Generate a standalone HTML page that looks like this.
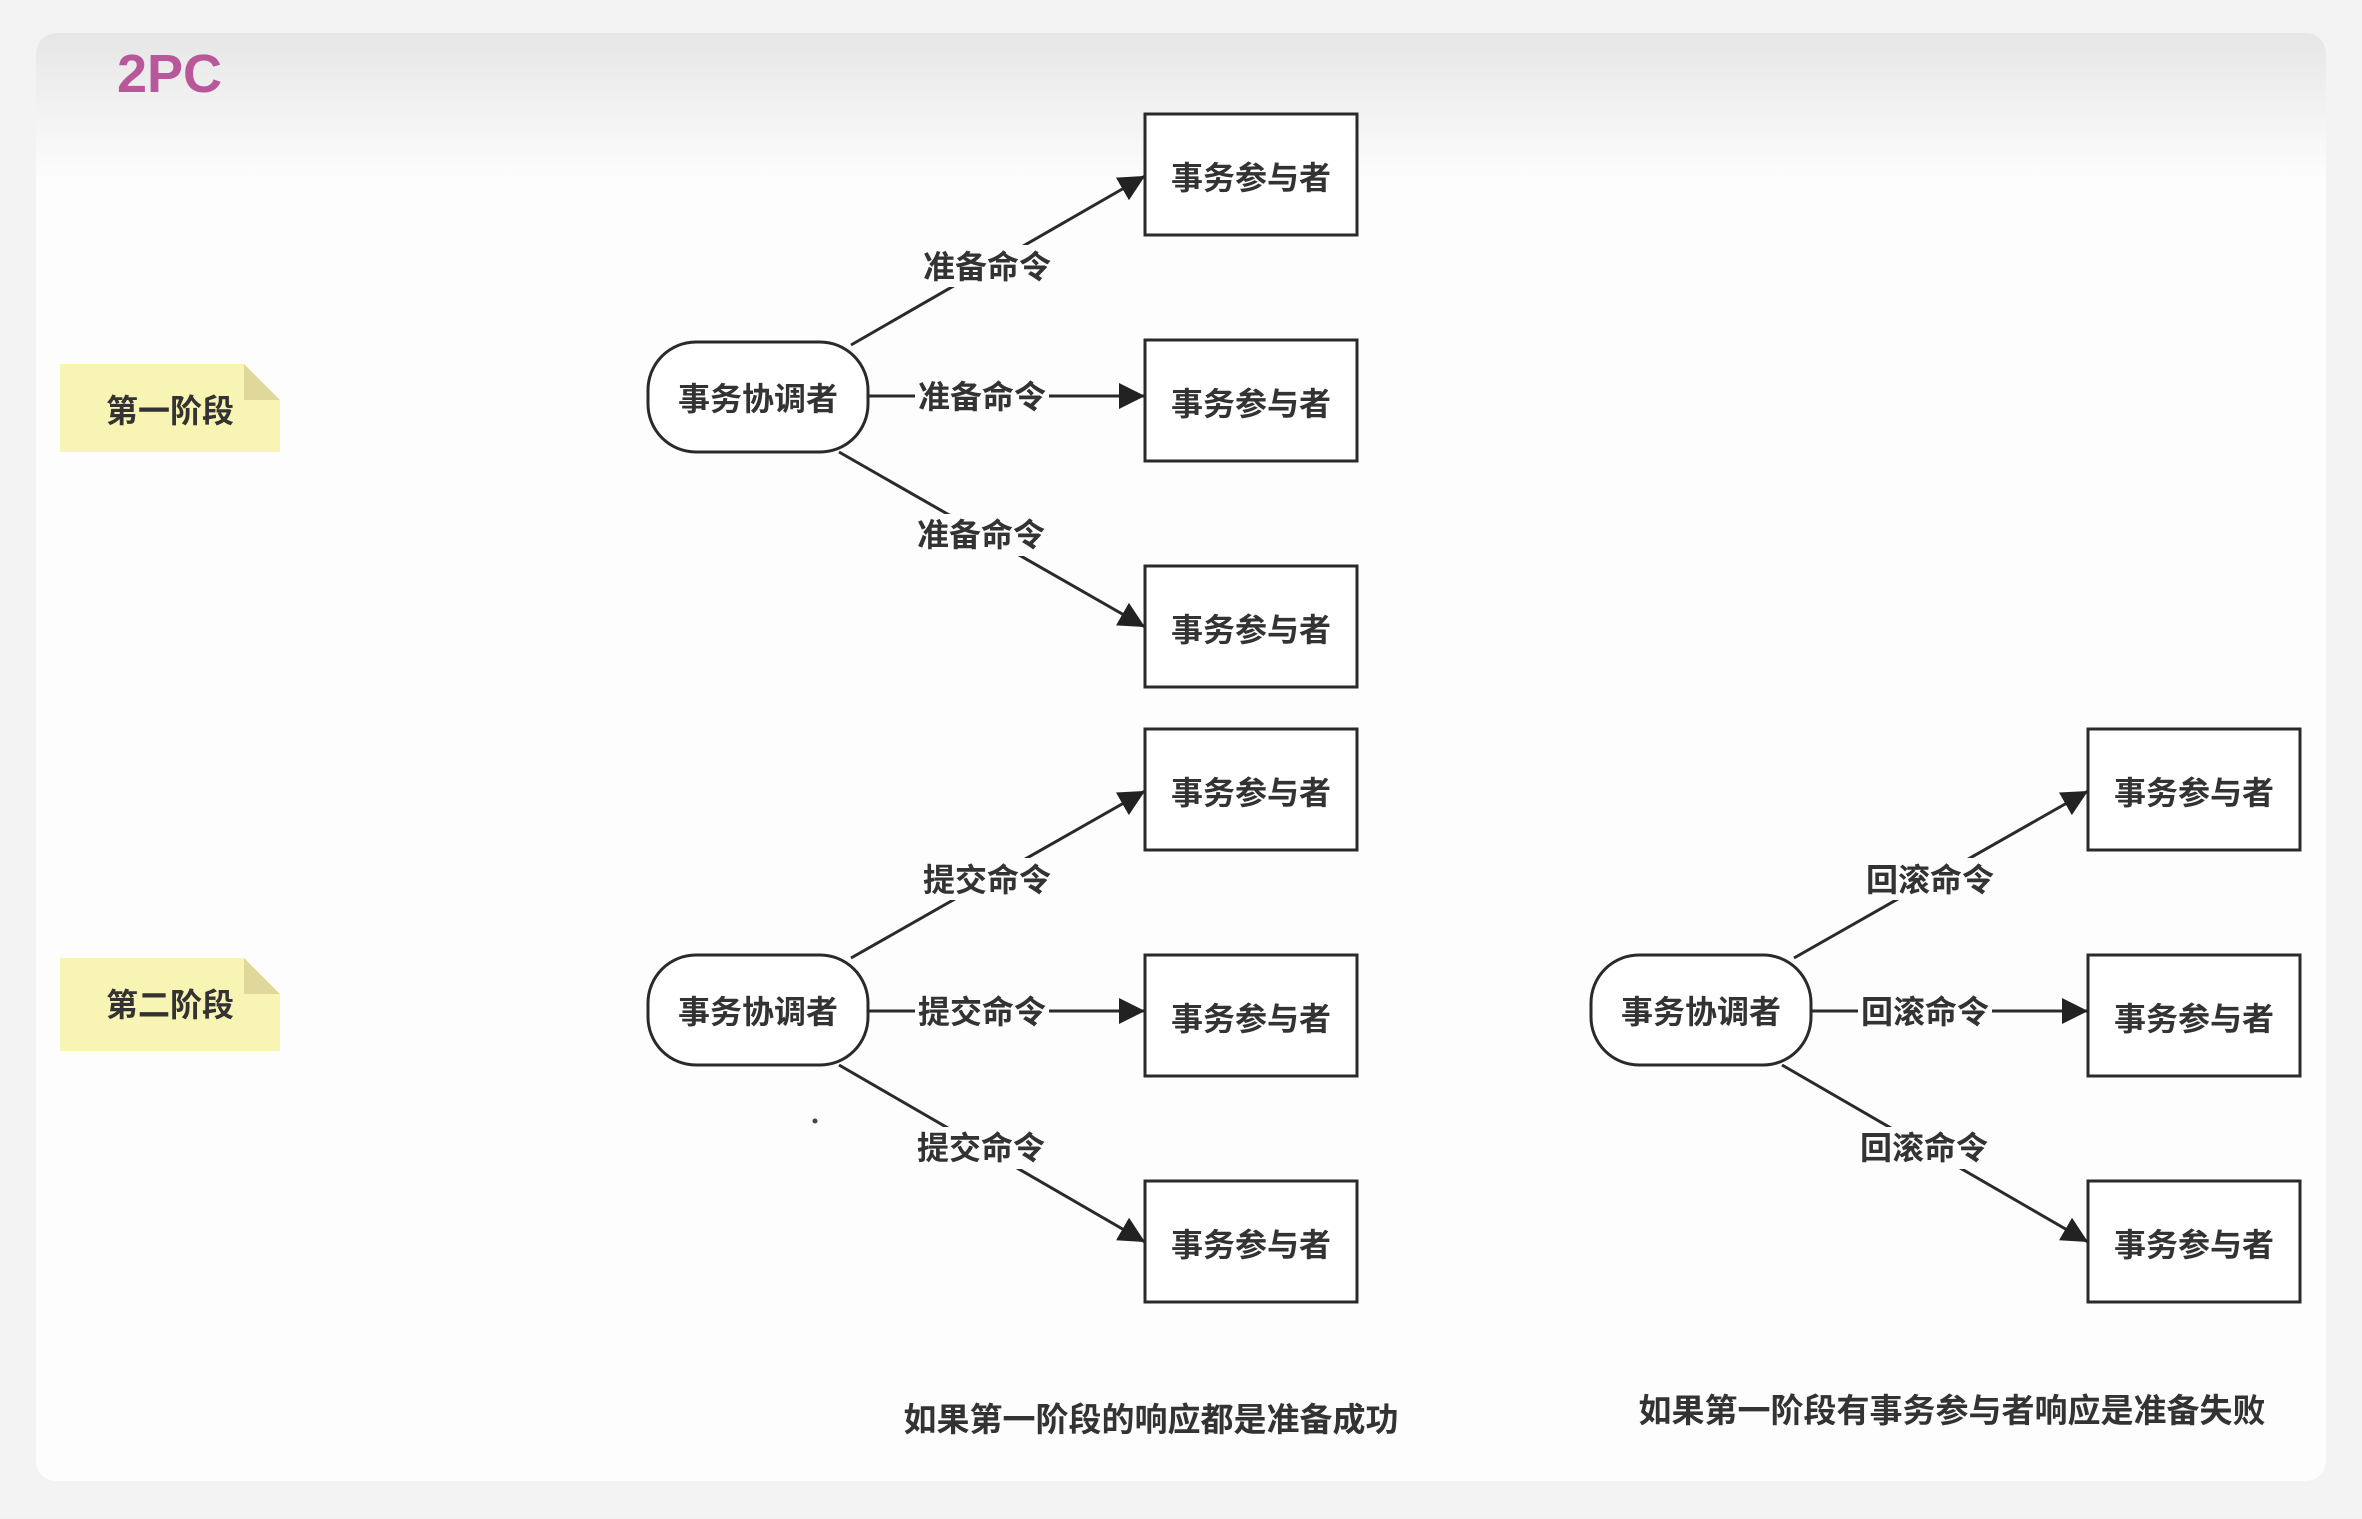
<!DOCTYPE html>
<html><head><meta charset="utf-8"><style>
html,body{margin:0;padding:0;background:#f2f2f2;}
body{width:2362px;height:1514px;overflow:hidden;}
text{font-family:"Liberation Sans","Noto Sans CJK SC",sans-serif;font-weight:bold;}
</style></head><body>
<svg width="2362" height="1514" xmlns="http://www.w3.org/2000/svg">
<defs>
<linearGradient id="hg" x1="0" y1="0" x2="0" y2="1">
<stop offset="0" stop-color="#e6e6e6"/><stop offset="1" stop-color="#fdfdfd"/>
</linearGradient>
<marker id="a" viewBox="0 0 10 10" refX="10" refY="5" markerWidth="26" markerHeight="26" markerUnits="userSpaceOnUse" orient="auto"><path d="M0,0 L10,5 L0,10 z" fill="#222"/></marker>
</defs>
<rect width="2362" height="1514" fill="#f3f3f3"/>
<rect x="36" y="33" width="2290" height="1448" rx="20" fill="#fdfdfd"/>
<path d="M56,33 H2306 a20,20 0 0 1 20,20 V180 H36 V53 a20,20 0 0 1 20,-20z" fill="url(#hg)"/>
<text x="117" y="92" font-size="54" fill="#b9579b">2PC</text>

<g>
<path d="M60,364 H244 L280,400 V452 H60z" fill="#f8f4b4"/>
<path d="M244,364 L280,400 H244z" fill="#e0d79a"/>
<text x="170" y="422" font-size="32" fill="#333" text-anchor="middle">第一阶段</text>
<path d="M60,958 H244 L280,994 V1051 H60z" fill="#f8f4b4"/>
<path d="M244,958 L280,994 H244z" fill="#e0d79a"/>
<text x="170" y="1016" font-size="32" fill="#333" text-anchor="middle">第二阶段</text>
</g>

<!-- Phase 1 -->
<g stroke="#2a2a2a" stroke-width="3" fill="#fff">
<rect x="648" y="342" width="220" height="110" rx="48"/>
<rect x="1145" y="114" width="212" height="121"/>
<rect x="1145" y="340" width="212" height="121"/>
<rect x="1145" y="566" width="212" height="121"/>
<line x1="851" y1="345" x2="1145" y2="176" marker-end="url(#a)"/>
<line x1="868" y1="396" x2="1145" y2="396" marker-end="url(#a)"/>
<line x1="839" y1="452" x2="1145" y2="627" marker-end="url(#a)"/>
</g>
<g fill="#fdfdfd"><rect x="918" y="245" width="138" height="42"/><rect x="915" y="376" width="134" height="40"/><rect x="913" y="514" width="136" height="42"/></g>
<g font-size="32" fill="#333" text-anchor="middle">
<text x="758" y="410">事务协调者</text>
<text x="1251" y="189">事务参与者</text>
<text x="1251" y="415">事务参与者</text>
<text x="1251" y="641">事务参与者</text>
<text x="987" y="278">准备命令</text>
<text x="982" y="408">准备命令</text>
<text x="981" y="546">准备命令</text>
</g>

<!-- Phase 2 success -->
<g transform="translate(0,613)">
<g stroke="#2a2a2a" stroke-width="3" fill="#fff">
<rect x="648" y="342" width="220" height="110" rx="48"/>
<rect x="1145" y="116" width="212" height="121"/>
<rect x="1145" y="342" width="212" height="121"/>
<rect x="1145" y="568" width="212" height="121"/>
<line x1="851" y1="345" x2="1145" y2="178" marker-end="url(#a)"/>
<line x1="868" y1="398" x2="1145" y2="398" marker-end="url(#a)"/>
<line x1="839" y1="452" x2="1145" y2="629" marker-end="url(#a)"/>
</g>
<g fill="#fdfdfd"><rect x="918" y="245" width="138" height="42"/><rect x="915" y="378" width="134" height="40"/><rect x="913" y="514" width="136" height="42"/></g>
<g font-size="32" fill="#333" text-anchor="middle">
<text x="758" y="410">事务协调者</text>
<text x="1251" y="191">事务参与者</text>
<text x="1251" y="417">事务参与者</text>
<text x="1251" y="643">事务参与者</text>
<text x="987" y="278">提交命令</text>
<text x="982" y="410">提交命令</text>
<text x="981" y="546">提交命令</text>
</g>
</g>

<!-- Phase 2 rollback -->
<g transform="translate(943,613)">
<g stroke="#2a2a2a" stroke-width="3" fill="#fff">
<rect x="648" y="342" width="220" height="110" rx="48"/>
<rect x="1145" y="116" width="212" height="121"/>
<rect x="1145" y="342" width="212" height="121"/>
<rect x="1145" y="568" width="212" height="121"/>
<line x1="851" y1="345" x2="1145" y2="178" marker-end="url(#a)"/>
<line x1="868" y1="398" x2="1145" y2="398" marker-end="url(#a)"/>
<line x1="839" y1="452" x2="1145" y2="629" marker-end="url(#a)"/>
</g>
<g fill="#fdfdfd"><rect x="918" y="245" width="138" height="42"/><rect x="915" y="378" width="134" height="40"/><rect x="913" y="514" width="136" height="42"/></g>
<g font-size="32" fill="#333" text-anchor="middle">
<text x="758" y="410">事务协调者</text>
<text x="1251" y="191">事务参与者</text>
<text x="1251" y="417">事务参与者</text>
<text x="1251" y="643">事务参与者</text>
<text x="987" y="278">回滚命令</text>
<text x="982" y="410">回滚命令</text>
<text x="981" y="546">回滚命令</text>
</g>
</g>

<g font-size="33" fill="#333" text-anchor="middle">
<text x="1151" y="1431">如果第一阶段的响应都是准备成功</text>
<text x="1952" y="1422">如果第一阶段有事务参与者响应是准备失败</text>
</g>
<circle cx="815" cy="1121" r="2.5" fill="#444"/>
</svg>
</body></html>
